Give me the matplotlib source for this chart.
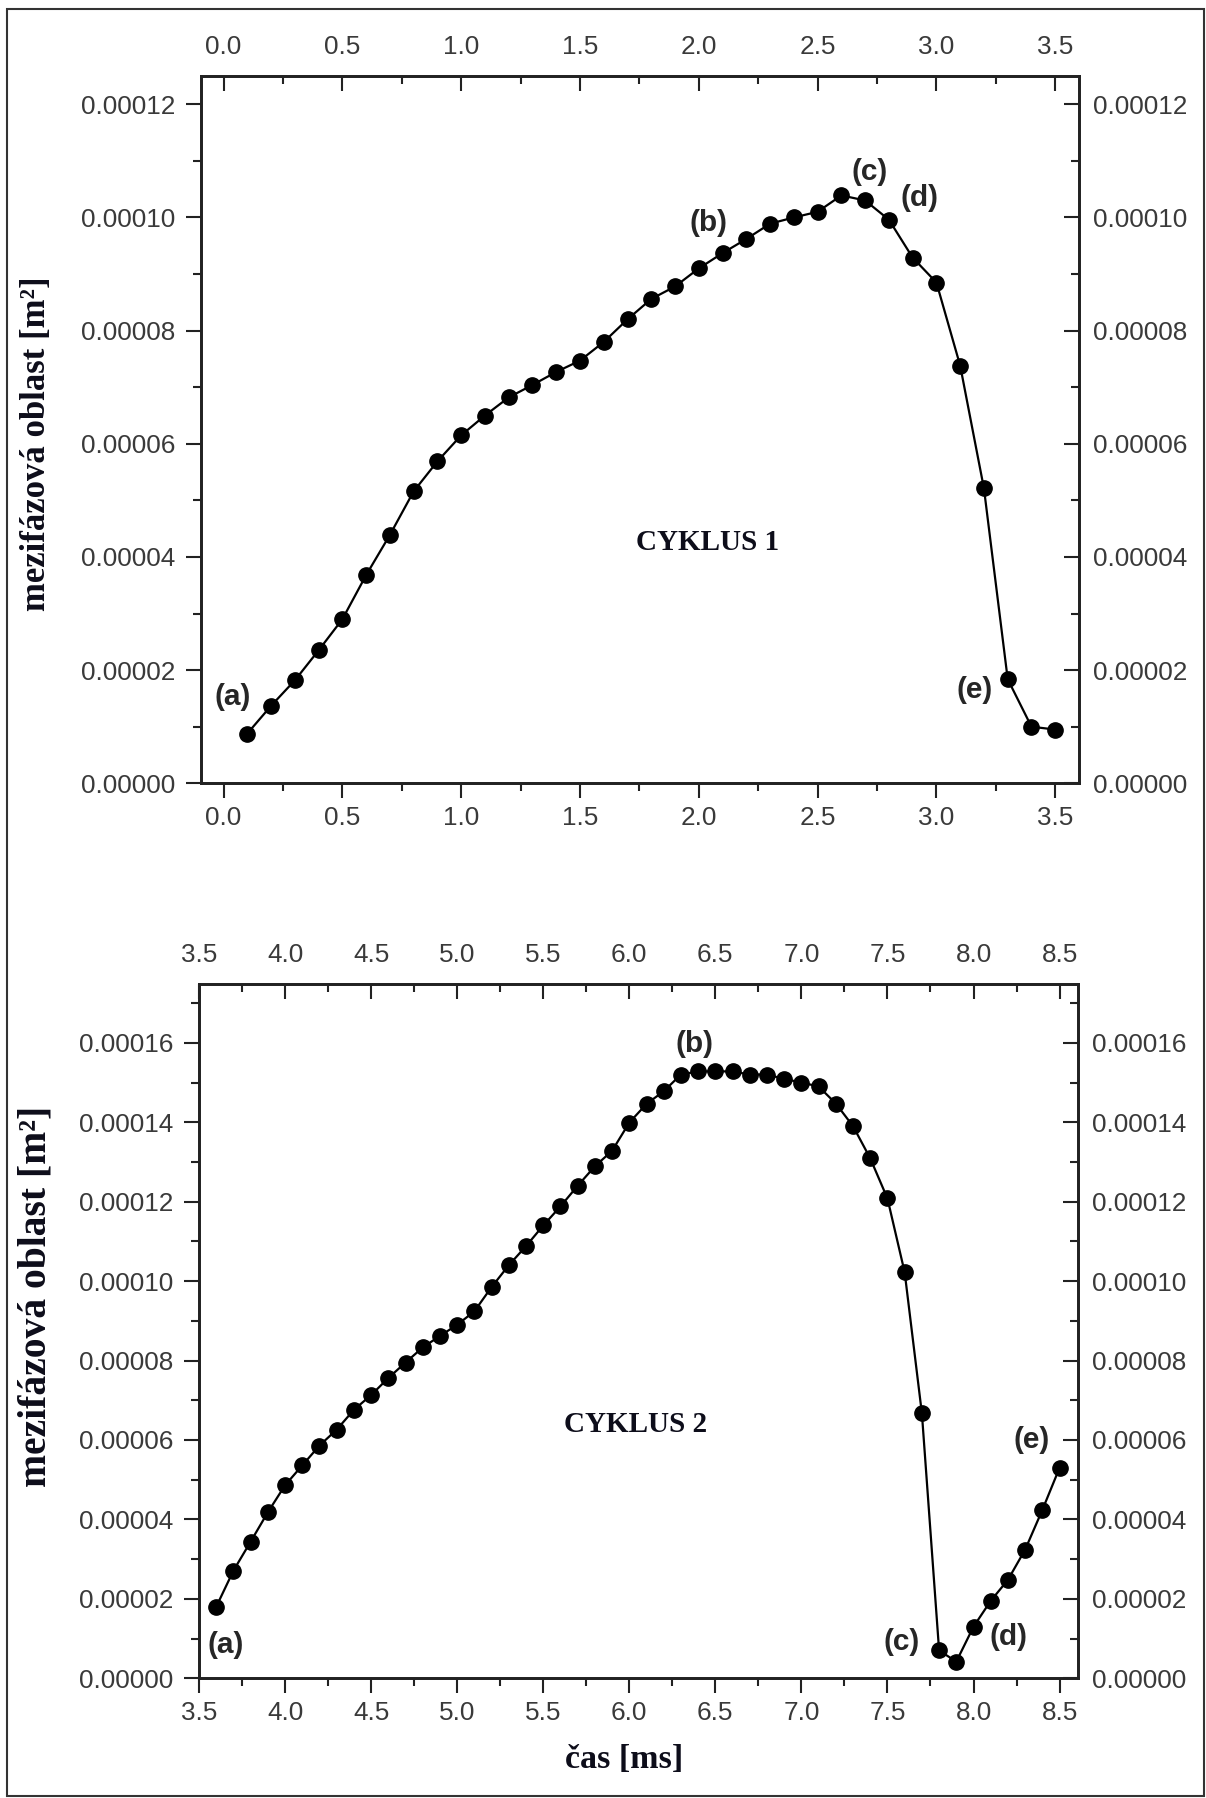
import matplotlib
matplotlib.use("Agg")
import matplotlib.pyplot as plt
from matplotlib.ticker import MultipleLocator, FormatStrFormatter, FixedLocator
from matplotlib.patches import Rectangle

# ---- data: interfacial area during two cycles ----
cycle1_time = [0.1, 0.2, 0.3, 0.4, 0.5, 0.6, 0.7, 0.8, 0.9, 1.0,
               1.1, 1.2, 1.3, 1.4, 1.5, 1.6, 1.7, 1.8, 1.9, 2.0,
               2.1, 2.2, 2.3, 2.4, 2.5, 2.6, 2.7, 2.8, 2.9, 3.0,
               3.1, 3.2, 3.3, 3.4, 3.5]
cycle1_area = [8.8e-6, 1.37e-5, 1.82e-5, 2.35e-5, 2.90e-5, 3.68e-5, 4.39e-5, 5.16e-5, 5.69e-5, 6.15e-5,
               6.50e-5, 6.82e-5, 7.04e-5, 7.27e-5, 7.47e-5, 7.80e-5, 8.20e-5, 8.56e-5, 8.78e-5, 9.10e-5,
               9.37e-5, 9.62e-5, 9.89e-5, 1.000e-4, 1.010e-4, 1.039e-4, 1.030e-4, 9.96e-5, 9.29e-5, 8.85e-5,
               7.38e-5, 5.21e-5, 1.84e-5, 1.00e-5, 9.5e-6]

cycle2_time = [3.6, 3.7, 3.8, 3.9, 4.0, 4.1, 4.2, 4.3, 4.4, 4.5,
               4.6, 4.7, 4.8, 4.9, 5.0, 5.1, 5.2, 5.3, 5.4, 5.5,
               5.6, 5.7, 5.8, 5.9, 6.0, 6.1, 6.2, 6.3, 6.4, 6.5,
               6.6, 6.7, 6.8, 6.9, 7.0, 7.1, 7.2, 7.3, 7.4, 7.5,
               7.6, 7.7, 7.8, 7.9, 8.0, 8.1, 8.2, 8.3, 8.4, 8.5]
cycle2_area = [1.80e-5, 2.71e-5, 3.44e-5, 4.18e-5, 4.86e-5, 5.36e-5, 5.86e-5, 6.26e-5, 6.76e-5, 7.13e-5,
               7.56e-5, 7.95e-5, 8.33e-5, 8.62e-5, 8.90e-5, 9.24e-5, 9.85e-5, 1.040e-4, 1.088e-4, 1.140e-4,
               1.188e-4, 1.240e-4, 1.289e-4, 1.328e-4, 1.399e-4, 1.446e-4, 1.478e-4, 1.520e-4, 1.528e-4, 1.528e-4,
               1.528e-4, 1.520e-4, 1.520e-4, 1.509e-4, 1.500e-4, 1.490e-4, 1.447e-4, 1.390e-4, 1.309e-4, 1.208e-4,
               1.022e-4, 6.67e-5, 7.0e-6, 4.2e-6, 1.30e-5, 1.95e-5, 2.48e-5, 3.24e-5, 4.24e-5, 5.30e-5]

# stage labels (text, time, area)
cycle1_marks = [("(a)", 0.037, 1.52e-5), ("(b)", 2.04, 9.9e-5), ("(c)", 2.717, 1.081e-4),
                ("(d)", 2.93, 1.034e-4), ("(e)", 3.159, 1.65e-5)]
cycle2_marks = [("(a)", 3.656, 8.4e-6), ("(b)", 6.377, 1.598e-4), ("(c)", 7.584, 9.2e-6),
                ("(d)", 8.202, 1.05e-5), ("(e)", 8.337, 6.0e-5)]

cycle1_yticks = [0.0, 2e-5, 4e-5, 6e-5, 8e-5, 1e-4, 1.2e-4]
cycle2_yticks = [0.0, 2e-5, 4e-5, 6e-5, 8e-5, 1e-4, 1.2e-4, 1.4e-4, 1.6e-4]
cycle1_xticks = [0.0, 0.5, 1.0, 1.5, 2.0, 2.5, 3.0, 3.5]
cycle2_xticks = [3.5, 4.0, 4.5, 5.0, 5.5, 6.0, 6.5, 7.0, 7.5, 8.0, 8.5]

W, H = 1206, 1798
fig = plt.figure(figsize=(W / 100, H / 100), dpi=100)

TICK_COLOR = "#3a3a3a"
TICK_FONT = "Liberation Sans"
LABEL_FONT = "Liberation Serif"
SPINE_COLOR = "#222222"


def px_box(left, top, right, bottom):
    return [left / W, 1 - bottom / H, (right - left) / W, (bottom - top) / H]


def set_ticks(axis, major, minor_step, fmt, direction, pad):
    axis.set_major_locator(FixedLocator(major))
    axis.set_minor_locator(MultipleLocator(minor_step))
    axis.set_major_formatter(FormatStrFormatter(fmt))
    axis.set_tick_params(which="major", direction=direction, length=10.5, width=1.5,
                         pad=pad, labelsize=18.8, labelcolor=TICK_COLOR,
                         color=SPINE_COLOR, labelfontfamily=TICK_FONT)
    axis.set_tick_params(which="minor", direction=direction, length=5.5, width=1.5,
                         color=SPINE_COLOR)


def build_panel(box, xlim, ylim, xticks, yticks):
    ax = fig.add_axes(box)
    ax.set_xlim(*xlim)
    ax.set_ylim(*ylim)
    for sp in ax.spines.values():
        sp.set_linewidth(1.8)
        sp.set_color(SPINE_COLOR)
    set_ticks(ax.xaxis, xticks, 0.25, "%.1f", "out", 6)
    set_ticks(ax.yaxis, yticks, 1e-5, "%.5f", "out", 8)

    top = ax.twiny()
    top.set_xlim(*xlim)
    top.set_ylim(*ylim)
    set_ticks(top.xaxis, xticks, 0.25, "%.1f", "in", 12)

    right = ax.twinx()
    right.set_xlim(*xlim)
    right.set_ylim(*ylim)
    set_ticks(right.yaxis, yticks, 1e-5, "%.5f", "in", 10)

    for extra in (top, right):
        for sp in extra.spines.values():
            sp.set_linewidth(1.8)
            sp.set_color(SPINE_COLOR)
    return ax


def draw_series(ax, t, a, marks):
    ax.plot(t, a, color="black", linewidth=1.6, marker="o", markersize=11,
            markerfacecolor="black", markeredgecolor="black", zorder=3, clip_on=False)
    for text, x, y in marks:
        ax.text(x, y, text, ha="center", va="center", fontsize=21.5,
                fontweight="bold", family=TICK_FONT, color="#262626")


# ---- cycle 1 ----
ax1 = build_panel(px_box(201, 76, 1079, 783.3), (-0.095, 3.6), (0, 1.25e-4),
                  cycle1_xticks, cycle1_yticks)
draw_series(ax1, cycle1_time, cycle1_area, cycle1_marks)

# ---- cycle 2 ----
ax2 = build_panel(px_box(199, 984, 1078, 1678.3), (3.5, 8.607), (0, 1.748e-4),
                  cycle2_xticks, cycle2_yticks)
draw_series(ax2, cycle2_time, cycle2_area, cycle2_marks)

# ---- titles and axis labels ----
label_color = "#0d0d1a"
fig.text(707.5 / W, 1 - 542.5 / H, "CYKLUS 1", ha="center", va="center",
         fontsize=21, fontweight="bold", family=LABEL_FONT, color=label_color)
fig.text(636 / W, 1 - 1425 / H, "CYKLUS 2", ha="center", va="center",
         fontsize=21, fontweight="bold", family=LABEL_FONT, color=label_color)

fig.text(37 / W, 1 - 443.5 / H, "mezifázová oblast [m²]", rotation=90,
         ha="center", va="center", fontsize=25, fontweight="bold",
         family=LABEL_FONT, color=label_color)
fig.text(36 / W, 1 - 1296 / H, "mezifázová oblast [m²]", rotation=90,
         ha="center", va="center", fontsize=28.5, fontweight="bold",
         family=LABEL_FONT, color=label_color)
fig.text(624.5 / W, 1 - 1760 / H, "čas [ms]", ha="center", va="center",
         fontsize=24.5, fontweight="bold", family=LABEL_FONT, color=label_color)

# ---- frame around the whole figure ----
fig.patches.append(Rectangle((7 / W, 2 / H), 1197 / W, 1787 / H, transform=fig.transFigure,
                             fill=False, edgecolor="#333333", linewidth=1.5))

fig.savefig("out.png", dpi=100)
